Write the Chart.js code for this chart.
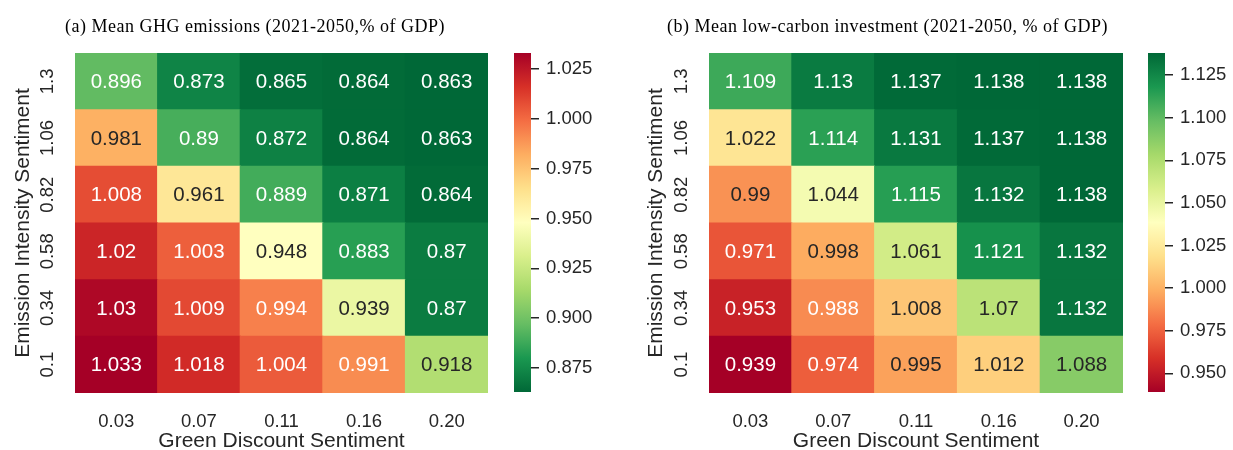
<!DOCTYPE html>
<html>
<head>
<meta charset="utf-8">
<script src="https://cdn.jsdelivr.net/npm/chart.js@4.4.0/dist/chart.umd.min.js"></script>
<style>
  body { margin: 0; background: #fff; }
  #wrap { position: relative; width: 1233px; height: 450px; overflow: hidden; }
  .box { position: absolute; top: 0; height: 450px; }
</style>
</head>
<body>
<div id="wrap">
  <div class="box" style="left:0;width:500px"><canvas id="heatA"></canvas></div>
  <div class="box" style="left:500px;width:100px"><canvas id="barA"></canvas></div>
  <div class="box" style="left:620px;width:510px"><canvas id="heatB"></canvas></div>
  <div class="box" style="left:1130px;width:103px"><canvas id="barB"></canvas></div>
</div>
<script>
// x categories and y categories (bottom row first)
const discountLabels = ['0.03', '0.07', '0.11', '0.16', '0.20'];
const intensityLabels = ['0.1', '0.34', '0.58', '0.82', '1.06', '1.3'];

// (a) mean GHG emissions, rows follow intensityLabels
const ghgRows = [
  [1.033, 1.018, 1.004, 0.991, 0.918],
  [1.03, 1.009, 0.994, 0.939, 0.87],
  [1.02, 1.003, 0.948, 0.883, 0.87],
  [1.008, 0.961, 0.889, 0.871, 0.864],
  [0.981, 0.89, 0.872, 0.864, 0.863],
  [0.896, 0.873, 0.865, 0.864, 0.863]
];

// (b) mean low-carbon investment
const invRows = [
  [0.939, 0.974, 0.995, 1.012, 1.088],
  [0.953, 0.988, 1.008, 1.07, 1.132],
  [0.971, 0.998, 1.061, 1.121, 1.132],
  [0.99, 1.044, 1.115, 1.132, 1.138],
  [1.022, 1.114, 1.131, 1.137, 1.138],
  [1.109, 1.13, 1.137, 1.138, 1.138]
];

const cbTicksA = [0.875, 0.9, 0.925, 0.95, 0.975, 1.0, 1.025];
const cbTicksB = [0.95, 0.975, 1.0, 1.025, 1.05, 1.075, 1.1, 1.125];

// RdYlGn
const rdylgn = ['#a50026', '#d73027', '#f46d43', '#fdae61', '#fee08b', '#ffffbf',
                '#d9ef8b', '#a6d96a', '#66bd63', '#1a9850', '#006837'];

const SANS = '"Liberation Sans", Arial, Helvetica, sans-serif';
const SERIF = '"Liberation Serif", "Times New Roman", serif';
const DARK = '#262626';

function hexRgb(h) {
  return [parseInt(h.slice(1, 3), 16), parseInt(h.slice(3, 5), 16), parseInt(h.slice(5, 7), 16)];
}

function cmap(t, reversed) {
  t = Math.max(0, Math.min(1, t));
  if (reversed) t = 1 - t;
  const p = t * (rdylgn.length - 1);
  const i = Math.min(Math.floor(p), rdylgn.length - 2);
  const f = p - i;
  const a = hexRgb(rdylgn[i]), b = hexRgb(rdylgn[i + 1]);
  return a.map((c, k) => Math.round(c + (b[k] - c) * f));
}

function luminance(rgb) {
  const lin = rgb.map(c => {
    c = c / 255;
    return c <= 0.03928 ? c / 12.92 : Math.pow((c + 0.055) / 1.055, 2.4);
  });
  return 0.2126 * lin[0] + 0.7152 * lin[1] + 0.0722 * lin[2];
}

const rgbStr = c => 'rgb(' + c.join(',') + ')';

// title of each panel, drawn in serif like the LaTeX caption
const panelTitle = {
  id: 'panelTitle',
  afterDraw(chart, args, opts) {
    if (!opts.text) return;
    const ctx = chart.ctx;
    ctx.save();
    ctx.font = '18px ' + SERIF;
    ctx.letterSpacing = '0.5px';
    ctx.fillStyle = '#000';
    ctx.textBaseline = 'alphabetic';
    ctx.textAlign = 'left';
    ctx.fillText(opts.text, opts.x, opts.y);
    ctx.restore();
  }
};

// vertical y tick labels, placed on the y scale's own tick values
const yLabels = {
  id: 'yLabels',
  afterDraw(chart, args, opts) {
    const scale = chart.scales.y;
    const ctx = chart.ctx;
    ctx.save();
    ctx.font = '18.5px ' + SANS;
    ctx.fillStyle = DARK;
    ctx.textAlign = 'center';
    ctx.textBaseline = 'middle';
    scale.ticks.forEach(t => {
      const y = scale.getPixelForValue(t.value);
      ctx.save();
      ctx.translate(opts.x, y);
      ctx.rotate(-Math.PI / 2);
      ctx.fillText(intensityLabels[Math.floor(t.value)], 0, 0);
      ctx.restore();
    });
    ctx.restore();
  }
};

// numbers in the cells
const cellLabels = {
  id: 'cellLabels',
  afterDatasetsDraw(chart) {
    const ctx = chart.ctx;
    ctx.save();
    ctx.font = '20.5px ' + SANS;
    ctx.textAlign = 'center';
    ctx.textBaseline = 'middle';
    chart.data.datasets.forEach((ds, i) => {
      const meta = chart.getDatasetMeta(i);
      meta.data.forEach((el, j) => {
        ctx.fillStyle = ds.textColors[j];
        ctx.fillText(String(ds.values[j]), el.x, (el.y + el.base) / 2 + 1);
      });
    });
    ctx.restore();
  }
};

function makeHeatmap(id, rows, reversed, title, titleX, yWidth, rightPad, yTitlePad, yTickX) {
  const all = rows.flat();
  const vmin = Math.min(...all), vmax = Math.max(...all);
  const datasets = rows.map((row, i) => {
    const cols = row.map(v => cmap((v - vmin) / (vmax - vmin), reversed));
    return {
      label: intensityLabels[i],
      data: row.map(() => 1),
      values: row,
      backgroundColor: cols.map(rgbStr),
      textColors: cols.map(c => luminance(c) > 0.408 ? DARK : '#fff'),
      borderWidth: 0,
      barPercentage: 1,
      categoryPercentage: 1,
      inflateAmount: 0.5
    };
  });
  return new Chart(document.getElementById(id), {
    type: 'bar',
    data: { labels: discountLabels, datasets: datasets },
    options: {
      responsive: true,
      maintainAspectRatio: false,
      animation: false,
      layout: { padding: { top: 53, right: rightPad, bottom: 0, left: 0 } },
      plugins: {
        legend: { display: false },
        tooltip: { enabled: false },
        panelTitle: { text: title, x: titleX, y: 32 },
        yLabels: { x: yTickX }
      },
      scales: {
        x: {
          stacked: true,
          grid: { display: false },
          border: { display: false },
          ticks: { color: DARK, font: { family: SANS, size: 18.5 }, padding: 10 },
          title: {
            display: true, text: 'Green Discount Sentiment', color: DARK,
            font: { family: SANS, size: 21, lineHeight: 0.8 }, padding: 0
          },
          afterFit(scale) { scale.height = 57; }
        },
        y: {
          stacked: true,
          min: 0,
          max: intensityLabels.length,
          grid: { display: false },
          border: { display: false },
          afterBuildTicks(scale) {
            scale.ticks = intensityLabels.map((_, i) => ({ value: i + 0.5 }));
          },
          ticks: { display: false },
          title: {
            display: true, text: 'Emission Intensity Sentiment', color: DARK,
            font: { family: SANS, size: 21, lineHeight: 1 }, padding: { top: yTitlePad, bottom: 0 }
          },
          afterFit(scale) { scale.width = yWidth; }
        }
      }
    },
    plugins: [cellLabels, panelTitle, yLabels]
  });
}

function makeColorbar(id, rows, reversed, tickVals, leftPad, boxWidth) {
  const all = rows.flat();
  const vmin = Math.min(...all), vmax = Math.max(...all);
  return new Chart(document.getElementById(id), {
    type: 'bar',
    data: {
      labels: ['cb'],
      datasets: [{
        data: [[vmin, vmax]],
        borderWidth: 0,
        barPercentage: 1,
        categoryPercentage: 1,
        backgroundColor(ctx) {
          const area = ctx.chart.chartArea;
          if (!area) return null;
          const g = ctx.chart.ctx.createLinearGradient(0, area.bottom, 0, area.top);
          for (let k = 0; k <= 40; k++) {
            g.addColorStop(k / 40, rgbStr(cmap(k / 40, reversed)));
          }
          return g;
        }
      }]
    },
    options: {
      responsive: true,
      maintainAspectRatio: false,
      animation: false,
      layout: { padding: { top: 53, right: 0, bottom: 58, left: leftPad } },
      plugins: { legend: { display: false }, tooltip: { enabled: false } },
      scales: {
        x: { display: false },
        y: {
          position: 'right',
          min: vmin,
          max: vmax,
          afterBuildTicks(scale) {
            scale.ticks = tickVals.map(v => ({ value: v }));
          },
          grid: { drawOnChartArea: false, drawTicks: true, tickLength: 8, color: DARK, lineWidth: 1.5 },
          border: { display: false },
          ticks: {
            color: DARK,
            font: { family: SANS, size: 18.5 },
            padding: 7,
            callback: v => v.toFixed(3)
          },
          afterFit(scale) { scale.width = boxWidth - leftPad - 17; }
        }
      }
    }
  });
}

makeHeatmap('heatA', ghgRows, true, '(a) Mean GHG emissions (2021-2050,% of GDP)', 65, 75, 12, 13, 48);
makeColorbar('barA', ghgRows, true, cbTicksA, 14, 100);
makeHeatmap('heatB', invRows, false, '(b) Mean low-carbon investment (2021-2050, % of GDP)', 47, 89, 7, 26, 62);
makeColorbar('barB', invRows, false, cbTicksB, 18, 103);
</script>
</body>
</html>
